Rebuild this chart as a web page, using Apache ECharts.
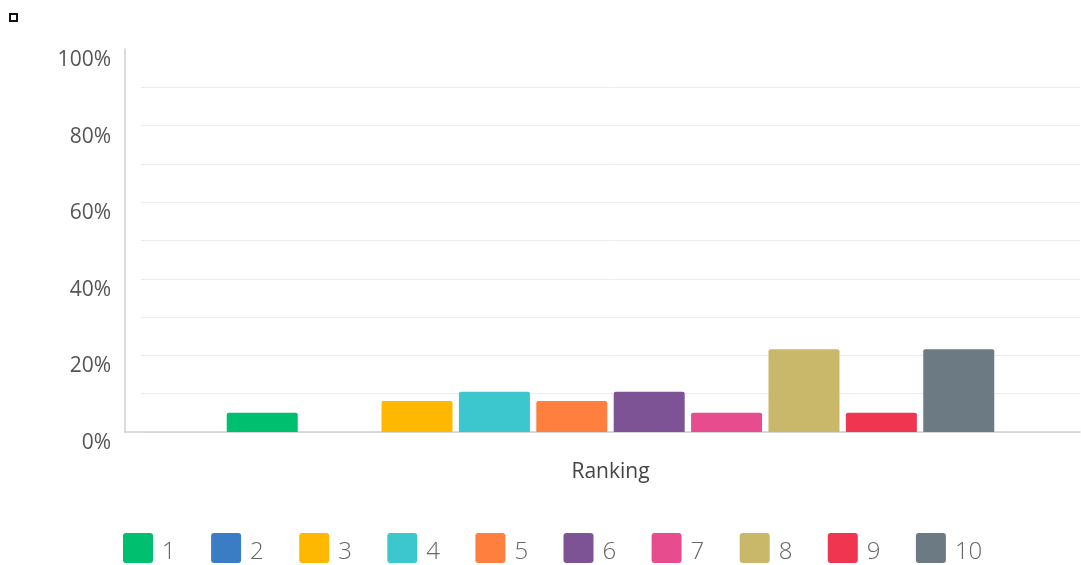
<!DOCTYPE html>
<html>
<head>
<meta charset="utf-8">
<style>
  html, body { margin: 0; padding: 0; background: #ffffff; }
  #chart { width: 1081px; height: 565px; }
</style>
<script src="https://cdn.jsdelivr.net/npm/echarts@6/dist/echarts.min.js"></script>
</head>
<body>
<div id="chart"></div>
<script>
// Share of respondents (%) giving each rank
const categories = ['Ranking'];
const rankNames = ['1', '2', '3', '4', '5', '6', '7', '8', '9', '10'];
const rankValues = [5.0, 0, 8.1, 10.5, 8.1, 10.5, 5.0, 21.6, 5.0, 21.6];
const rankColors = ['#00BF6F', '#3B7DC4', '#FFB800', '#3CC6CD', '#FF7F3F',
                    '#7E5396', '#E74C8E', '#C9B86A', '#F03550', '#6B7A83'];
const yTicks = { min: 0, max: 100, labelStep: 20, gridStep: 10 };

const FONT = '"Open Sans", "DejaVu Sans", sans-serif';
const iconPath = 'path://M3,0H27A3,3 0 0 1 30,3V27A3,3 0 0 1 27,30H3A3,3 0 0 1 0,27V3A3,3 0 0 1 3,0Z';

const chart = echarts.init(document.getElementById('chart'), null, { renderer: 'canvas' });

const series = rankNames.map((name, i) => ({
  name: name,
  type: 'bar',
  xAxisIndex: 0,
  yAxisIndex: 0,
  data: [rankValues[i]],
  barWidth: 71,
  barGap: '9%',
  itemStyle: { color: rankColors[i], borderRadius: [2, 2, 0, 0] },
  emphasis: { disabled: true }
}));

chart.setOption({
  animation: false,
  backgroundColor: '#ffffff',
  color: rankColors,
  grid: [
    { left: 141, right: 1, top: 49, bottom: 133 },
    { left: 125, right: 1, top: 49, bottom: 133 }
  ],
  xAxis: [
    {
      gridIndex: 0,
      type: 'category',
      data: categories,
      axisLine: { show: false },
      axisTick: { show: false },
      axisLabel: { fontFamily: FONT, fontSize: 21, color: '#444', margin: 30 }
    },
    {
      gridIndex: 1,
      type: 'value',
      min: 0, max: 1,
      axisLine: { show: true, lineStyle: { color: '#cfcfcf', width: 1.5 } },
      axisTick: { show: false },
      axisLabel: { show: false },
      splitLine: { show: false }
    }
  ],
  yAxis: [
    {
      gridIndex: 0,
      type: 'value',
      min: yTicks.min, max: yTicks.max, interval: yTicks.gridStep,
      axisLine: { show: false },
      axisTick: { show: false },
      axisLabel: { show: false },
      splitLine: { show: true, showMaxLine: false, lineStyle: { color: '#ececec', width: 1 } }
    },
    {
      gridIndex: 1,
      type: 'value',
      min: yTicks.min, max: yTicks.max, interval: yTicks.labelStep,
      axisLine: { show: true, lineStyle: { color: '#cfcfcf', width: 1.5 } },
      axisTick: { show: false },
      splitLine: { show: false },
      axisLabel: {
        formatter: '{value}%',
        fontFamily: FONT, fontSize: 21, color: '#555',
        margin: 14,
        verticalAlign: 'top',
        lineHeight: 18,
        padding: [2, 0, 0, 0]
      }
    }
  ],
  legend: {
    data: rankNames,
    left: 118,
    top: 528,
    itemWidth: 30,
    itemHeight: 30,
    itemGap: 35.4,
    icon: iconPath,
    selectedMode: false,
    formatter: '{n|{name}}',
    textStyle: {
      fontFamily: FONT, fontSize: 24, fontWeight: 300, color: '#666',
      rich: {
        n: { fontFamily: FONT, fontSize: 24, fontWeight: 300, color: '#666', padding: [8, 0, 0, 4] }
      }
    }
  },
  graphic: [
    {
      type: 'rect',
      left: 9, top: 13,
      shape: { width: 7, height: 7 },
      style: { fill: '#ffffff', stroke: '#111111', lineWidth: 2 }
    }
  ],
  series: series
});
</script>
</body>
</html>
